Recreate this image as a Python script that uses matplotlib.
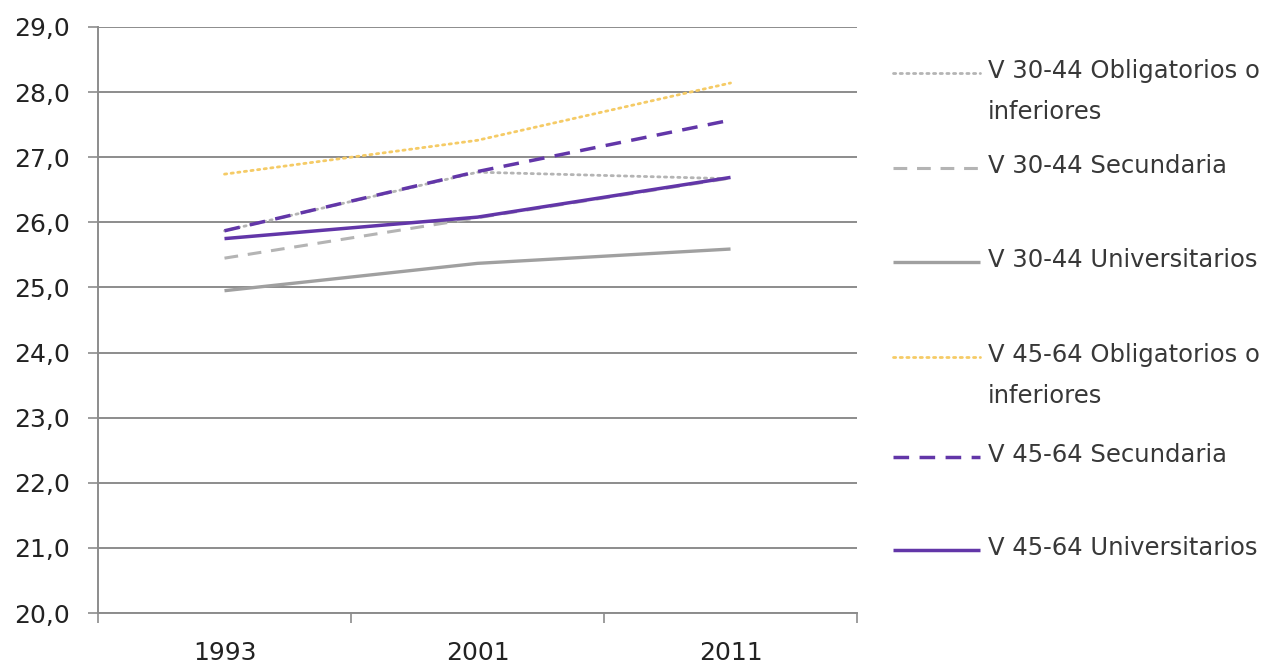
import matplotlib
matplotlib.use("Agg")
import matplotlib.pyplot as plt
from matplotlib.lines import Line2D

plt.rcParams['font.family'] = ['DejaVu Sans']

years = ['1993', '2001', '2011']
v3044_oblig = [25.87, 26.77, 26.67]
v3044_secund = [25.45, 26.07, 26.68]
v3044_univ = [24.95, 25.37, 25.59]
v4564_oblig = [26.74, 27.26, 28.14]
v4564_secund = [25.87, 26.78, 27.57]
v4564_univ = [25.75, 26.08, 26.69]

labels = [
    'V 30-44 Obligatorios o\ninferiores',
    'V 30-44 Secundaria',
    'V 30-44 Universitarios',
    'V 45-64 Obligatorios o\ninferiores',
    'V 45-64 Secundaria',
    'V 45-64 Universitarios',
]
series = [v3044_oblig, v3044_secund, v3044_univ, v4564_oblig, v4564_secund, v4564_univ]

grey_light = '#B4B4B4'
grey = '#A0A0A0'
gold = '#F5CB66'
purple = '#6236A8'
styles = [
    dict(color=grey_light, lw=2.0, ls=(0, (0.8, 1.6)), dash_capstyle='round'),
    dict(color=grey_light, lw=2.2, ls=(0, (4.5, 3.2))),
    dict(color=grey, lw=2.4, ls='-'),
    dict(color=gold, lw=2.0, ls=(0, (0.8, 1.6)), dash_capstyle='round'),
    dict(color=purple, lw=2.5, ls=(0, (4.5, 3.0))),
    dict(color=purple, lw=2.5, ls='-'),
]

fig = plt.figure(figsize=(12.71, 6.68), dpi=100)
ax = fig.add_axes([0.0771, 0.0823, 0.5972, 0.8773])

x = range(len(years))
for vals, st in zip(series, styles):
    ax.plot(x, vals, solid_capstyle='butt', **st)

ax.set_xlim(-0.5, len(years) - 0.5)
ax.set_ylim(20, 29)
ax.set_yticks(range(20, 30))
ax.set_yticklabels([f'{v},0' for v in range(20, 30)])
ax.yaxis.grid(True, color='#8C8C8C', lw=1.4)
ax.set_axisbelow(True)

ax.set_xticks([i - 0.5 for i in range(len(years) + 1)])
ax.set_xticklabels([])
ax.set_xticks(list(x), minor=True)
ax.set_xticklabels(years, minor=True)
ax.tick_params(axis='x', which='minor', length=0, pad=20, labelsize=18, labelcolor='#222222')
ax.tick_params(axis='x', which='major', length=7, width=1.2, color='#8C8C8C', direction='out')
ax.tick_params(axis='y', length=7, width=1.2, color='#8C8C8C', labelsize=18,
               labelcolor='#222222', pad=13)

for side in ['top', 'right']:
    ax.spines[side].set_visible(False)
for side in ['left', 'bottom']:
    ax.spines[side].set_color('#8C8C8C')
    ax.spines[side].set_linewidth(1.4)

# legend drawn entry by entry on the right
legend_y = [73, 168, 262, 357, 457, 550]
H, W = 668, 1271
for lab, st, yy in zip(labels, styles, legend_y):
    yf = 1 - yy / H
    fig.add_artist(Line2D([893 / W, 980 / W], [yf, yf], transform=fig.transFigure,
                          solid_capstyle='butt', **st))
    fig.text(988 / W, yf + 14 / H, lab, ha='left', va='top', fontsize=17.5,
             color='#383838', linespacing=1.9)

fig.savefig('out.png', dpi=100, facecolor='white')
